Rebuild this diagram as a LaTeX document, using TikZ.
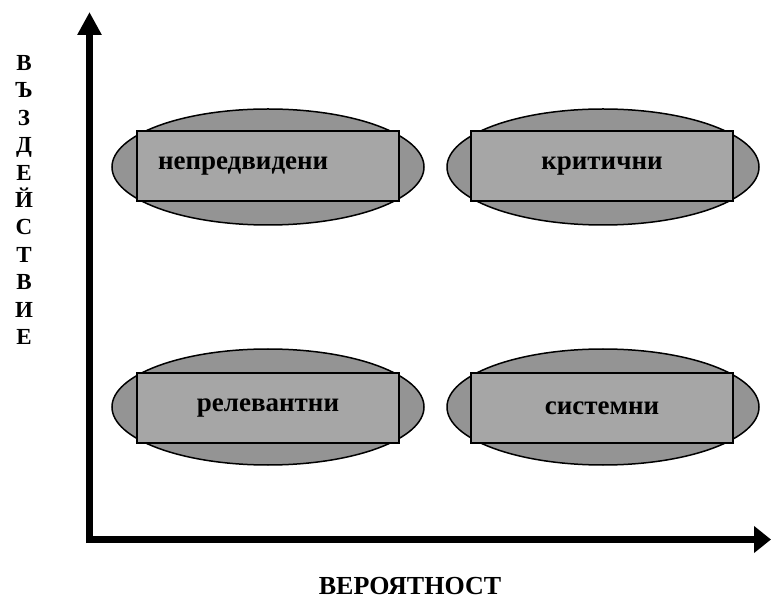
\documentclass[tikz,border=0pt]{standalone}
\usepackage{fontspec}
\setmainfont{Liberation Serif}
\usetikzlibrary{arrows.meta,shapes.geometric}

\begin{document}
\begin{tikzpicture}[x=1pt,y=-1pt,
  axis/.style={-{Triangle[length=23pt,width=23pt]},line width=7.5pt},
  oval/.style={ellipse,draw=black,line width=1.5pt,fill=black!42,minimum width=312pt,minimum height=116pt},
  box/.style={rectangle,draw=black,line width=1.5pt,fill=black!35,minimum width=262pt,minimum height=70pt,font=\bfseries\fontsize{27}{30}\selectfont},
  axislabel/.style={font=\bfseries\fontsize{23}{27.4}\selectfont,align=center},
]
\useasboundingbox (0,0) rectangle (771,601);

% axes
\coordinate (origin) at (89.5,539.5);
\coordinate (ytip) at (89.5,12);
\coordinate (xtip) at (771,539.5);
\draw[axis] (89.5,543) -- (ytip);
\draw[axis,-{Triangle[length=17pt,width=26pt]}] (86,539.5) -- (xtip);

% quadrants
\node[oval] (ovalA) at (268,167) {};
\node[box,text width=220pt,align=left,inner xsep=21pt] (boxA) at (268,166) {непредвидени};
\node[oval] (ovalB) at (603,167) {};
\node[box] (boxB) at (602,166) {критични};
\node[oval] (ovalC) at (268,407) {};
\node[box] (boxC) at (268,408) {релевантни};
\node[oval] (ovalD) at (603,407) {};
\node[box] (boxD) at (602,408) {системни};

% labels
\node[axislabel] (impact) at (24,200) {В\\Ъ\\З\\Д\\Е\\Й\\С\\Т\\В\\И\\Е};
\node[font=\bfseries\fontsize{26}{28}\selectfont] (prob) at (410,586) {ВЕРОЯТНОСТ};
\end{tikzpicture}
\end{document}
